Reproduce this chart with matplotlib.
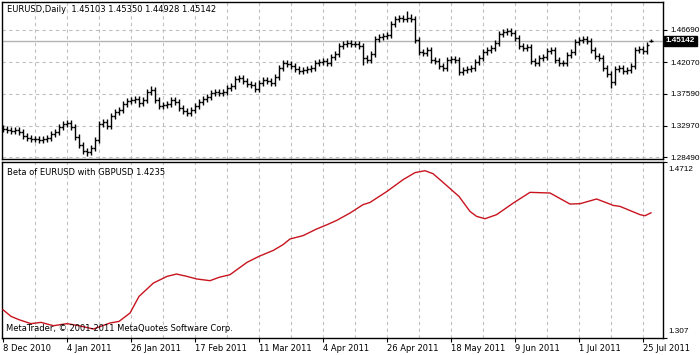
import numpy as np
import matplotlib
matplotlib.use("Agg")
import matplotlib.pyplot as plt

# EURUSD daily bars, 8 Dec 2010 .. 25 Jul 2011
opens = [1.3265, 1.3250, 1.3236, 1.3221, 1.3236, 1.3207, 1.3150, 1.3121, 1.3107, 1.3107,
         1.3092, 1.3107, 1.3121, 1.3178, 1.3207, 1.3279, 1.3322, 1.3336, 1.3279, 1.3135,
         1.3021, 1.2935, 1.2920, 1.2978, 1.3092, 1.3322, 1.3350, 1.3293, 1.3436, 1.3494,
         1.3522, 1.3608, 1.3651, 1.3666, 1.3680, 1.3623, 1.3666, 1.3780, 1.3809, 1.3666,
         1.3580, 1.3594, 1.3608, 1.3666, 1.3637, 1.3551, 1.3508, 1.3479, 1.3522, 1.3580,
         1.3637, 1.3680, 1.3709, 1.3766, 1.3780, 1.3766, 1.3780, 1.3838, 1.3866, 1.3967,
         1.3981, 1.3938, 1.3895, 1.3881, 1.3823, 1.3909, 1.3952, 1.3938, 1.3909, 1.3995,
         1.4124, 1.4196, 1.4182, 1.4153, 1.4110, 1.4081, 1.4096, 1.4110, 1.4124, 1.4196,
         1.4210, 1.4225, 1.4196, 1.4282, 1.4325, 1.4440, 1.4468, 1.4483, 1.4468, 1.4468,
         1.4440, 1.4268, 1.4239, 1.4325, 1.4540, 1.4569, 1.4583, 1.4597, 1.4755, 1.4827,
         1.4841, 1.4827, 1.4841, 1.4827, 1.4526, 1.4354, 1.4339, 1.4382, 1.4239, 1.4225,
         1.4153, 1.4124, 1.4239, 1.4253, 1.4239, 1.4067, 1.4096, 1.4110, 1.4124, 1.4210,
         1.4268, 1.4354, 1.4382, 1.4411, 1.4483, 1.4612, 1.4640, 1.4655, 1.4626, 1.4554,
         1.4440, 1.4411, 1.4425, 1.4225, 1.4196, 1.4268, 1.4282, 1.4368, 1.4382, 1.4239,
         1.4196, 1.4196, 1.4311, 1.4354, 1.4497, 1.4526, 1.4540, 1.4511, 1.4382, 1.4296,
         1.4268, 1.4124, 1.4038, 1.3924, 1.4110, 1.4124, 1.4081, 1.4096, 1.4153, 1.4382,
         1.4397, 1.4368, 1.45103]
highs = [1.3305, 1.3290, 1.3276, 1.3276, 1.3276, 1.3247, 1.3190, 1.3161, 1.3147, 1.3147,
         1.3147, 1.3161, 1.3218, 1.3247, 1.3319, 1.3362, 1.3376, 1.3376, 1.3319, 1.3175,
         1.3061, 1.2975, 1.3018, 1.3132, 1.3362, 1.3390, 1.3390, 1.3476, 1.3534, 1.3562,
         1.3648, 1.3691, 1.3706, 1.3720, 1.3720, 1.3706, 1.3820, 1.3860, 1.3849, 1.3706,
         1.3634, 1.3648, 1.3706, 1.3706, 1.3677, 1.3591, 1.3548, 1.3562, 1.3620, 1.3677,
         1.3720, 1.3749, 1.3806, 1.3820, 1.3820, 1.3820, 1.3878, 1.3906, 1.4007, 1.4021,
         1.4021, 1.3978, 1.3935, 1.3921, 1.3949, 1.3992, 1.3992, 1.3978, 1.4035, 1.4164,
         1.4236, 1.4236, 1.4222, 1.4193, 1.4150, 1.4136, 1.4150, 1.4164, 1.4236, 1.4250,
         1.4265, 1.4265, 1.4322, 1.4365, 1.4480, 1.4508, 1.4523, 1.4523, 1.4508, 1.4508,
         1.4480, 1.4308, 1.4365, 1.4580, 1.4609, 1.4623, 1.4637, 1.4795, 1.4867, 1.4881,
         1.4881, 1.4940, 1.4900, 1.4867, 1.4566, 1.4394, 1.4422, 1.4422, 1.4279, 1.4265,
         1.4193, 1.4279, 1.4293, 1.4293, 1.4279, 1.4136, 1.4150, 1.4164, 1.4250, 1.4308,
         1.4394, 1.4422, 1.4451, 1.4523, 1.4652, 1.4680, 1.4695, 1.4695, 1.4666, 1.4594,
         1.4480, 1.4465, 1.4465, 1.4265, 1.4308, 1.4322, 1.4408, 1.4422, 1.4422, 1.4279,
         1.4236, 1.4351, 1.4394, 1.4537, 1.4566, 1.4580, 1.4580, 1.4551, 1.4422, 1.4336,
         1.4308, 1.4164, 1.4078, 1.4150, 1.4164, 1.4164, 1.4136, 1.4193, 1.4422, 1.4437,
         1.4437, 1.4494, 1.45350]
lows = [1.3210, 1.3196, 1.3181, 1.3181, 1.3167, 1.3110, 1.3081, 1.3067, 1.3067, 1.3052,
        1.3052, 1.3067, 1.3081, 1.3138, 1.3167, 1.3239, 1.3282, 1.3239, 1.3095, 1.2981,
        1.2895, 1.2866, 1.2880, 1.2938, 1.3052, 1.3282, 1.3253, 1.3253, 1.3396, 1.3454,
        1.3482, 1.3568, 1.3611, 1.3626, 1.3560, 1.3583, 1.3626, 1.3740, 1.3626, 1.3540,
        1.3540, 1.3554, 1.3568, 1.3597, 1.3511, 1.3468, 1.3439, 1.3439, 1.3482, 1.3540,
        1.3597, 1.3640, 1.3669, 1.3726, 1.3726, 1.3726, 1.3740, 1.3798, 1.3826, 1.3927,
        1.3898, 1.3855, 1.3841, 1.3783, 1.3783, 1.3869, 1.3898, 1.3869, 1.3869, 1.3955,
        1.4084, 1.4142, 1.4113, 1.4070, 1.4041, 1.4041, 1.4056, 1.4070, 1.4084, 1.4156,
        1.4170, 1.4156, 1.4156, 1.4242, 1.4285, 1.4400, 1.4428, 1.4428, 1.4428, 1.4400,
        1.4170, 1.4199, 1.4199, 1.4285, 1.4500, 1.4529, 1.4543, 1.4557, 1.4715, 1.4787,
        1.4787, 1.4787, 1.4787, 1.4486, 1.4314, 1.4299, 1.4299, 1.4199, 1.4185, 1.4113,
        1.4084, 1.4084, 1.4199, 1.4199, 1.4027, 1.4027, 1.4056, 1.4070, 1.4084, 1.4170,
        1.4228, 1.4314, 1.4342, 1.4371, 1.4443, 1.4572, 1.4600, 1.4586, 1.4514, 1.4400,
        1.4371, 1.4371, 1.4185, 1.4156, 1.4156, 1.4228, 1.4242, 1.4328, 1.4199, 1.4156,
        1.4156, 1.4156, 1.4271, 1.4314, 1.4457, 1.4486, 1.4471, 1.4342, 1.4256, 1.4228,
        1.4084, 1.3998, 1.3838, 1.3884, 1.4070, 1.4041, 1.4041, 1.4056, 1.4113, 1.4342,
        1.4328, 1.4328, 1.44928]
closes = [1.3250, 1.3236, 1.3221, 1.3236, 1.3207, 1.3150, 1.3121, 1.3107, 1.3107, 1.3092,
          1.3107, 1.3121, 1.3178, 1.3207, 1.3279, 1.3322, 1.3336, 1.3279, 1.3135, 1.3021,
          1.2935, 1.2920, 1.2978, 1.3092, 1.3322, 1.3350, 1.3293, 1.3436, 1.3494, 1.3522,
          1.3608, 1.3651, 1.3666, 1.3680, 1.3623, 1.3666, 1.3780, 1.3809, 1.3666, 1.3580,
          1.3594, 1.3608, 1.3666, 1.3637, 1.3551, 1.3508, 1.3479, 1.3522, 1.3580, 1.3637,
          1.3680, 1.3709, 1.3766, 1.3780, 1.3766, 1.3780, 1.3838, 1.3866, 1.3967, 1.3981,
          1.3938, 1.3895, 1.3881, 1.3823, 1.3909, 1.3952, 1.3938, 1.3909, 1.3995, 1.4124,
          1.4196, 1.4182, 1.4153, 1.4110, 1.4081, 1.4096, 1.4110, 1.4124, 1.4196, 1.4210,
          1.4225, 1.4196, 1.4282, 1.4325, 1.4440, 1.4468, 1.4483, 1.4468, 1.4468, 1.4440,
          1.4268, 1.4239, 1.4325, 1.4540, 1.4569, 1.4583, 1.4597, 1.4755, 1.4827, 1.4841,
          1.4827, 1.4841, 1.4827, 1.4526, 1.4354, 1.4339, 1.4382, 1.4239, 1.4225, 1.4153,
          1.4124, 1.4239, 1.4253, 1.4239, 1.4067, 1.4096, 1.4110, 1.4124, 1.4210, 1.4268,
          1.4354, 1.4382, 1.4411, 1.4483, 1.4612, 1.4640, 1.4655, 1.4626, 1.4554, 1.4440,
          1.4411, 1.4425, 1.4225, 1.4196, 1.4268, 1.4282, 1.4368, 1.4382, 1.4239, 1.4196,
          1.4196, 1.4311, 1.4354, 1.4497, 1.4526, 1.4540, 1.4511, 1.4382, 1.4296, 1.4268,
          1.4124, 1.4038, 1.3924, 1.4110, 1.4124, 1.4081, 1.4096, 1.4153, 1.4382, 1.4397,
          1.4368, 1.4454, 1.45142]

# Beta of EURUSD with GBPUSD (bar number, value)
beta_bar = [0, 2, 4, 7, 9.5, 12.6, 16, 19, 22.6, 24, 26.75, 29, 31.75, 34, 37.6, 41, 43.4,
            46, 48.4, 51.75, 54, 56.75, 61, 64, 67.6, 70, 71.75, 75, 78.4, 81, 83.4, 86.75,
            90, 91.75, 96, 100, 103, 105.5, 107.5, 109.25, 114, 116.75, 118.4, 120.5, 123.4,
            127.6, 131.75, 136.75, 141.75, 144.25, 148.4, 152.6, 154.25, 159.25, 160.5, 162]
beta_val = [1.3331, 1.3269, 1.3238, 1.3201, 1.3213, 1.3182, 1.3201, 1.3182, 1.3151, 1.3170,
            1.3207, 1.3222, 1.3300, 1.3455, 1.3580, 1.3642, 1.3664, 1.3642, 1.3618, 1.3602,
            1.3633, 1.3658, 1.3773, 1.3829, 1.3885, 1.3938, 1.3991, 1.4022, 1.4084, 1.4124,
            1.4164, 1.4233, 1.4311, 1.4332, 1.4435, 1.4544, 1.4610, 1.4628, 1.4600, 1.4544,
            1.4388, 1.4248, 1.4202, 1.4180, 1.4218, 1.4327, 1.4426, 1.4420, 1.4317, 1.4320,
            1.4364, 1.4304, 1.4295, 1.4218, 1.4208, 1.4235]

date_bars = [0, 16, 32, 48, 64, 80, 96, 112, 128, 144, 160]
date_labels = ["8 Dec 2010", "4 Jan 2011", "26 Jan 2011", "17 Feb 2011", "11 Mar 2011",
               "4 Apr 2011", "26 Apr 2011", "18 May 2011", "9 Jun 2011", "1 Jul 2011",
               "25 Jul 2011"]
price_ticks = [1.46690, 1.42070, 1.37590, 1.32970, 1.28490]
beta_ticks = [1.4712, 1.307]

plt.rcParams['font.family'] = ['DejaVu Sans']
FS = 6
NUMFONT = dict(family='Liberation Sans', size=5.9)
GRID = '#c0c0c0'

fig = plt.figure(figsize=(7, 3.55), dpi=100)
W, H = 700.0, 355.0
ax1 = fig.add_axes([2 / W, 1 - 158.5 / H, 661 / W, 156.5 / H])
ax2 = fig.add_axes([2 / W, 1 - 337.7 / H, 661 / W, 176 / H])

x = np.arange(len(closes))
xlim = (-0.25, 165)

# ---- price panel
for gx in range(8, 165, 8):
    ax1.axvline(gx, color=GRID, lw=0.8, ls=(0, (3, 3)), zorder=0)
    ax2.axvline(gx, color=GRID, lw=0.8, ls=(0, (3, 3)), zorder=0)
for gy in price_ticks:
    ax1.axhline(gy, color=GRID, lw=0.8, ls=(0, (3, 3)), zorder=0)
ax1.axhline(closes[-1], color='#b4b4b4', lw=1.0, zorder=1)

ax1.vlines(x, lows, highs, color='black', lw=1.0, zorder=3)
ax1.hlines(opens, x - 0.45, x, color='black', lw=1.0, zorder=3)
ax1.hlines(closes, x, x + 0.45, color='black', lw=1.0, zorder=3)

ax1.set_xlim(*xlim)
ax1.set_ylim(1.2828, 1.5070)
ax1.yaxis.tick_right()
ax1.set_yticks(price_ticks)
ax1.set_yticklabels(['%.5f' % v for v in price_ticks], fontdict=NUMFONT)
ax1.set_xticks([])
ax1.tick_params(axis='y', direction='out', length=3, width=0.8, pad=2)
ax1.text(0.008, 0.95,
         'EURUSD,Daily  %.5f %.5f %.5f %.5f' % (opens[-1], highs[-1], lows[-1], closes[-1]),
         transform=ax1.transAxes, fontsize=FS, va='center', ha='left')
ax1.text(1.0045, closes[-1], '%.5f' % closes[-1], transform=ax1.get_yaxis_transform(),
         color='white', fontweight='bold', va='center', ha='left', fontdict=NUMFONT,
         bbox=dict(boxstyle='square,pad=0.2', fc='black', ec='black'), zorder=5, clip_on=False)

# ---- beta panel
ax2.plot(beta_bar, beta_val, color='#c8141e', lw=1.0, zorder=3)
ax2.set_xlim(*xlim)
ax2.set_ylim(beta_ticks[1], beta_ticks[0])
ax2.yaxis.tick_right()
ax2.set_yticks(beta_ticks)
ax2.set_yticklabels([])
ax2.tick_params(axis='y', direction='out', length=3, width=0.8)
ax2.text(1.008, 0.955, '%.4f' % beta_ticks[0], transform=ax2.transAxes, fontdict=NUMFONT,
         va='center', ha='left')
ax2.text(1.008, 0.035, '%.3f' % beta_ticks[1], transform=ax2.transAxes, fontdict=NUMFONT,
         va='center', ha='left')
ax2.set_xticks(date_bars)
ax2.set_xticklabels(date_labels, ha='left')
ax2.tick_params(axis='x', direction='out', length=3, width=0.8, pad=1.5, labelsize=FS)
ax2.text(0.008, 0.94, 'Beta of EURUSD with GBPUSD %.4f' % beta_val[-1],
         transform=ax2.transAxes, fontsize=FS, va='center', ha='left')
ax2.text(0.006, 0.05, 'MetaTrader, \u00a9 2001-2011 MetaQuotes Software Corp.',
         transform=ax2.transAxes, fontsize=FS, va='center', ha='left', zorder=4)

for ax in (ax1, ax2):
    for s in ax.spines.values():
        s.set_color('black')
        s.set_linewidth(1.0)

fig.savefig('out.png', dpi=100, facecolor='white')
